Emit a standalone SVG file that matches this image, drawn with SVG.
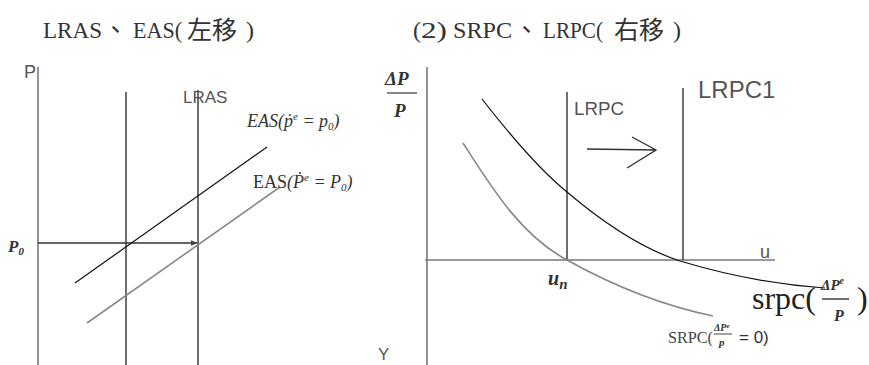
<svg xmlns="http://www.w3.org/2000/svg" width="869" height="365" viewBox="0 0 869 365">
<defs>
<style>
.title{font-family:"Liberation Serif","Noto Sans CJK TC",serif;font-size:24px;fill:#333}
.cjk{font-family:"Noto Sans CJK TC",serif;font-size:25px;fill:#333}
.sans{font-family:"Liberation Sans",Arial,sans-serif;fill:#555}
.math{font-family:"Liberation Serif",serif;font-style:italic;fill:#333}
.axis{stroke:#777;stroke-width:1.6;fill:none}
.dark{stroke:#333;stroke-width:1.4;fill:none}
.blk{stroke:#111;stroke-width:1.2;fill:none}
.gry{stroke:#888;stroke-width:1.6;fill:none}
</style>
<marker id="ah" viewBox="0 0 10 10" refX="9" refY="5" markerWidth="5" markerHeight="5" orient="auto">
<path d="M0,1 L10,5 L0,9 z" fill="#444"/>
</marker>
</defs>
<rect width="869" height="365" fill="#fff"/>

<g id="titles">
<text class="title" y="38"><tspan x="43" textLength="59" lengthAdjust="spacingAndGlyphs">LRAS</tspan></text>
<text class="cjk" x="103" y="39">、</text>
<text class="title" y="38"><tspan x="133" textLength="49" lengthAdjust="spacingAndGlyphs">EAS(</tspan><tspan class="cjk" x="187" dy="1">左移</tspan><tspan x="246" dy="-1">)</tspan></text>

<text class="title" y="38"><tspan x="413">(</tspan><tspan x="421" textLength="26" lengthAdjust="spacingAndGlyphs">2)</tspan><tspan x="453" textLength="59" lengthAdjust="spacingAndGlyphs">SRPC</tspan></text>
<text class="cjk" x="514" y="39">、</text>
<text class="title" y="38"><tspan x="543" textLength="60" lengthAdjust="spacingAndGlyphs">LRPC(</tspan><tspan class="cjk" x="614" dy="1">右移</tspan><tspan x="673" dy="-1">)</tspan></text>
</g>

<g id="left-chart">
<path class="axis" d="M38,67 V365"/>
<text class="sans" x="24" y="78" font-size="18">P</text>
<path class="dark" d="M126,92 V365"/>
<path class="dark" d="M198,90 V365"/>
<text class="sans" x="183" y="103" font-size="17">LRAS</text>
<path class="dark" d="M38,243 H197" stroke="#555" marker-end="url(#ah)"/>
<text class="math" x="8" y="252" font-size="17" font-weight="bold">P<tspan font-size="11" dy="3">0</tspan></text>
<path class="blk" d="M75,283 L267,147"/>
<path class="gry" d="M87,323 L280,187"/>
<text class="math" x="247" y="127" font-size="18">EAS(ṗ<tspan font-size="11" dy="-7">e</tspan><tspan dy="7"> = p</tspan><tspan font-size="11" dy="3">0</tspan><tspan dy="-3">)</tspan></text>
<text class="math" x="253" y="188" font-size="18"><tspan font-style="normal">EAS</tspan>(Ṗ<tspan font-size="11" dy="-7">e</tspan><tspan dy="7"> = P</tspan><tspan font-size="11" dy="3">0</tspan><tspan dy="-3">)</tspan></text>
</g>

<g id="right-chart">
<path class="axis" d="M427,67 V365"/>
<path class="axis" d="M425,260 H775"/>
<text class="math" x="385" y="85" font-size="19" font-weight="bold" fill="#3a3a48">ΔP</text>
<path d="M387,93 H417" stroke="#666" stroke-width="1.6"/>
<text class="math" x="394" y="117" font-size="19" font-weight="bold" fill="#3a3a48">P</text>
<text class="sans" x="378" y="360" font-size="17">Y</text>
<text class="sans" x="760" y="258" font-size="18">u</text>
<path class="dark" d="M567,92 V260"/>
<text class="sans" x="574" y="115" font-size="19" textLength="50" lengthAdjust="spacingAndGlyphs">LRPC</text>
<path class="dark" d="M683,88 V260" stroke="#222"/>
<text class="sans" x="698" y="98" font-size="24" fill="#111">LRPC1</text>
<path class="dark" d="M587,149 L656,150 M632,137 L656,150 L627,168"/>
<path class="blk" d="M482,99 C510,135 540,170 567,192 C600,220 640,248 680,261 C730,276 780,285 825,288"/>
<path class="gry" d="M463,143 C490,185 520,235 567,260 C610,284 660,305 713,316"/>
<text class="math" x="548" y="285" font-size="20" font-weight="bold" fill="#3a3a48">u<tspan font-size="15" dy="4">n</tspan></text>
<text x="752" y="309" font-family="'Liberation Serif',serif" font-size="32" fill="#222">srpc(</text>
<text class="math" x="821" y="290" font-size="15" font-weight="bold">ΔP<tspan font-size="10" dy="-6">e</tspan></text>
<path d="M822,299 H849" stroke="#333" stroke-width="1.4"/>
<text class="math" x="834" y="321" font-size="16" font-weight="bold">P</text>
<text x="857" y="309" font-family="'Liberation Serif',serif" font-size="32" fill="#222">)</text>
<text x="668" y="343" font-family="'Liberation Serif',serif" font-size="17" fill="#444" textLength="45" lengthAdjust="spacingAndGlyphs">SRPC(</text>
<text class="math" x="714" y="331" font-size="10" font-weight="bold">ΔP<tspan font-size="7" dy="-3">e</tspan></text>
<path d="M714,334 H732" stroke="#444" stroke-width="1"/>
<text class="math" x="719" y="346" font-size="11" font-weight="bold">p</text>
<text x="739" y="343" font-family="'Liberation Sans',sans-serif" font-size="17" fill="#333">= 0)</text>
</g>
</svg>
